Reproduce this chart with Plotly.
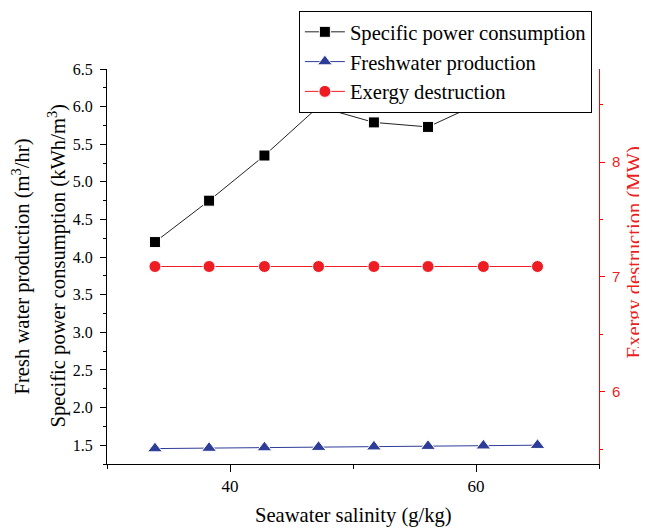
import plotly.graph_objects as go

salinity = [33.9, 38.3, 42.8, 47.2, 51.7, 56.1, 60.6, 65.0]
specific_power = [4.20, 4.75, 5.35, 6.00, 5.79, 5.73, 6.07, 6.10]
freshwater = [1.455, 1.462, 1.468, 1.474, 1.480, 1.487, 1.493, 1.500]
exergy = [7.09, 7.09, 7.09, 7.09, 7.09, 7.09, 7.09, 7.09]

SERIF = "Liberation Serif"
SANS = "Liberation Sans"
RED = "#EE1D24"
BLUE = "#2E3D98"
TS = 20.6

fig = go.Figure()
fig.add_trace(go.Scatter(
    x=salinity, y=specific_power, name="Specific power consumption",
    mode="lines+markers",
    line=dict(color="#222222", width=1),
    marker=dict(symbol="square", size=11, color="black", line=dict(color="white", width=1)),
))
fig.add_trace(go.Scatter(
    x=salinity, y=freshwater, name="Freshwater production",
    mode="lines+markers",
    line=dict(color=BLUE, width=1),
    marker=dict(symbol="triangle-up", size=13, color=BLUE, line=dict(color="white", width=1)),
))
fig.add_trace(go.Scatter(
    x=salinity, y=exergy, name="Exergy destruction", yaxis="y2",
    mode="lines+markers",
    line=dict(color=RED, width=1),
    marker=dict(symbol="circle", size=12, color=RED, line=dict(color="white", width=1)),
))

fig.update_layout(
    width=639, height=520,
    margin=dict(l=99, r=48, t=61, b=64, autoexpand=False),
    paper_bgcolor="white", plot_bgcolor="white",
    font=dict(family=SERIF, size=16, color="black"),
    showlegend=True,
    legend=dict(
        x=0.39, y=1.147, xanchor="left", yanchor="top",
        bordercolor="black", borderwidth=1, bgcolor="white",
        font=dict(family=SERIF, size=TS, color="black"),
        tracegroupgap=0, itemwidth=40,
    ),
    xaxis=dict(
        range=[30, 70], tick0=0, dtick=20,
        showline=True, linecolor="black", linewidth=1,
        ticks="outside", ticklen=7, tickcolor="black",
        minor=dict(dtick=10, ticks="outside", ticklen=4, tickcolor="black"),
        showgrid=False, zeroline=False,
        tickfont=dict(family=SERIF, size=17),
    ),
    yaxis=dict(
        range=[1.25, 6.5], dtick=0.5, tickformat=".1f",
        showline=True, linecolor="black", linewidth=1,
        ticks="outside", ticklen=6, tickcolor="black",
        minor=dict(dtick=0.25, ticks="outside", ticklen=3, tickcolor="black"),
        showgrid=False, zeroline=False,
        tickfont=dict(family=SERIF, size=16),
        ticklabelstandoff=4,
    ),
    yaxis2=dict(
        overlaying="y", side="right",
        range=[5.37, 8.81], tick0=0, dtick=1,
        showline=True, linecolor="red", linewidth=1,
        ticks="outside", ticklen=5, tickcolor="red",
        minor=dict(dtick=0.5, ticks="outside", ticklen=3, tickcolor="red"),
        showgrid=False, zeroline=False,
        tickfont=dict(family=SANS, size=15, color=RED),
        ticklabelstandoff=4,
    ),
    annotations=[
        dict(text="Seawater salinity (g/kg)", xref="paper", yref="paper",
             x=0.5, y=0, yshift=-51, xanchor="center", yanchor="middle",
             showarrow=False, font=dict(family=SERIF, size=TS, color="black")),
        dict(text="Fresh water production (m<sup>3</sup>/hr)", xref="paper", yref="paper",
             x=0, y=0.5, xshift=-86, xanchor="center", yanchor="middle", textangle=-90,
             showarrow=False, font=dict(family=SERIF, size=TS, color="black")),
        dict(text="Specific power consumption (kWh/m<sup>3</sup>)", xref="paper", yref="paper",
             x=0, y=0.5, xshift=-50, xanchor="center", yanchor="middle", textangle=-90,
             showarrow=False, font=dict(family=SERIF, size=TS, color="black")),
        dict(text="Exergy destruction (MW)", xref="paper", yref="paper",
             x=1, y=0.5, xshift=35, yshift=14, xanchor="center", yanchor="middle", textangle=-90,
             showarrow=False, font=dict(family=SERIF, size=TS, color=RED)),
    ],
)

fig.write_html("out.html")
